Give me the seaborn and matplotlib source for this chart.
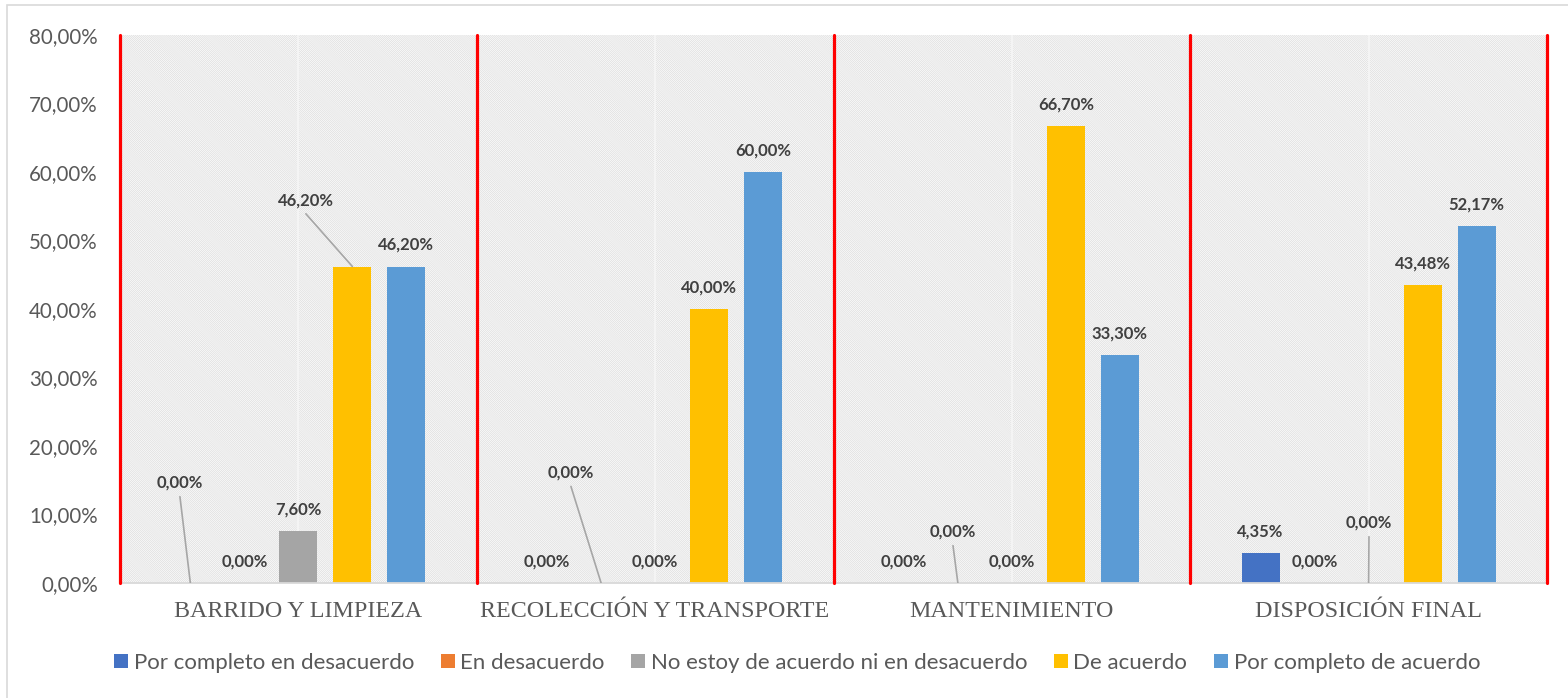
import numpy as np
import pandas as pd
import matplotlib
matplotlib.use("Agg")
import matplotlib.pyplot as plt
import seaborn as sns
from matplotlib.patches import Rectangle, Patch

# ---- data -------------------------------------------------------------
categories = ["BARRIDO Y LIMPIEZA", "RECOLECCIÓN Y TRANSPORTE",
              "MANTENIMIENTO", "DISPOSICIÓN FINAL"]
series = ["Por completo en desacuerdo", "En desacuerdo",
          "No estoy de acuerdo ni en desacuerdo", "De acuerdo",
          "Por completo de acuerdo"]
por_completo_desacuerdo = [0.00, 0.00, 0.00, 4.35]
en_desacuerdo = [0.00, 0.00, 0.00, 0.00]
ni_acuerdo_ni_desacuerdo = [7.60, 0.00, 0.00, 0.00]
de_acuerdo = [46.20, 40.00, 66.70, 43.48]
por_completo_acuerdo = [46.20, 60.00, 33.30, 52.17]
y_ticks = [0, 10, 20, 30, 40, 50, 60, 70, 80]

colors = ["#4472C4", "#ED7D31", "#A5A5A5", "#FFC000", "#5B9BD5"]

values = [por_completo_desacuerdo, en_desacuerdo, ni_acuerdo_ni_desacuerdo,
          de_acuerdo, por_completo_acuerdo]
df = pd.DataFrame(
    [(c, s, v[i]) for s, v in zip(series, values) for i, c in enumerate(categories)],
    columns=["categoria", "serie", "valor"],
)

# labels moved away from their bar, joined by a leader line:
# (category index, series index) -> (label x, label y) in data units
moved_labels = {
    (0, 0): (-0.332, 14.6),
    (0, 3): (0.021, 55.9),
    (1, 1): (0.764, 16.1),
    (2, 1): (1.835, 7.45),
    (3, 2): (3.001, 8.76),
}

def pct(v):
    return f"{v:.2f}".replace(".", ",") + "%"

# ---- figure -----------------------------------------------------------
sns.set_theme(style="white")
plt.rcParams["font.family"] = ["Lato", "DejaVu Sans"]
plt.rcParams["hatch.linewidth"] = 0.5

fig = plt.figure(figsize=(15.68, 6.98), dpi=100)
ax = fig.add_axes([120 / 1568, 1 - 583 / 698, 1427 / 1568, 548 / 698])
ax.set_facecolor("none")

# hatched plot area
ax.add_patch(Rectangle((0, 0), 1, 1, transform=ax.transAxes, facecolor="white",
                       edgecolor="#dcdcdc", hatch="\\" * 17, lw=0, zorder=0.1))

sns.barplot(data=df, x="categoria", y="valor", hue="serie", order=categories,
            hue_order=series, palette=colors, saturation=1, width=0.757,
            gap=0.3, legend=False, ax=ax, zorder=2, linewidth=0)

ax.set_xlim(-0.5, len(categories) - 0.5)
ax.set_ylim(0, 80)
ax.set_yticks(y_ticks)
ax.set_yticklabels([pct(t) for t in y_ticks])
ax.set_xlabel("")
ax.set_ylabel("")

# faint lines at the group centres
for i in range(len(categories)):
    ax.axvline(i, color="#f4f4f4", lw=1.5, zorder=0.5)

# red separators between groups
for b in np.arange(-0.5, len(categories), 1.0):
    ax.axvline(b, color="#FF0000", lw=2.3, zorder=4, clip_on=False)

for side in ["top", "right", "left"]:
    ax.spines[side].set_visible(False)
ax.spines["bottom"].set_color("#d9d9d9")
ax.spines["bottom"].set_linewidth(1.3)
ax.spines["bottom"].set_zorder(3)

ax.tick_params(axis="y", length=0, pad=16, labelsize=14.8, labelcolor="#595959")
ax.tick_params(axis="x", length=0, pad=13, labelsize=17.3, labelcolor="#595959")
for lab in ax.get_xticklabels():
    lab.set_fontfamily("Liberation Serif")

# value labels
label_kw = dict(fontsize=12, fontweight="bold", color="#404040",
                ha="center", va="center", zorder=6)
for s_idx, cont in enumerate(ax.containers):
    for c_idx, bar in enumerate(cont):
        v = values[s_idx][c_idx]
        xc = bar.get_x() + bar.get_width() / 2
        h = bar.get_height()
        key = (c_idx, s_idx)
        if key in moved_labels:
            lx, ly = moved_labels[key]
            ax.text(lx, ly, pct(v), **label_kw)
            ax.plot([lx, xc], [ly - 2.0, h], color="#a6a6a6", lw=1.2, zorder=5)
        else:
            ax.annotate(pct(v), (xc, h), xytext=(0, 15.5),
                        textcoords="offset points", **label_kw)

# legend
handles = [Patch(facecolor=c, edgecolor="none") for c in colors]
fig.legend(handles, series, loc="center", bbox_to_anchor=(797 / 1568, 1 - 663 / 698),
           ncol=5, frameon=False, fontsize=16, handlelength=0.63, handleheight=0.63,
           handletextpad=0.25, columnspacing=1.2, labelcolor="#595959")

# light frame around the chart
fig.add_artist(Rectangle((7 / 1568, -0.05), 1.2, 1 - 5 / 698 + 0.05,
                         transform=fig.transFigure, fill=False,
                         edgecolor="#d9d9d9", lw=1.2))

fig.savefig("out.png", dpi=100)
